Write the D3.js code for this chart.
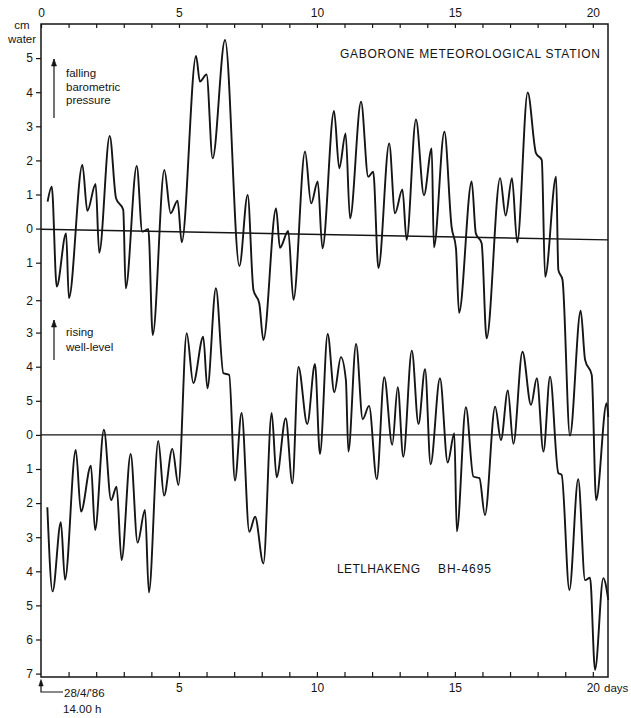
<!DOCTYPE html>
<html>
<head>
<meta charset="utf-8">
<script src="https://cdn.jsdelivr.net/npm/d3@7"></script>
<style>
  body { margin: 0; background: #fff; }
  svg { display: block; font-family: "Liberation Sans", Arial, sans-serif; }
</style>
</head>
<body>
<script>
// Barometric pressure (cm water), upper trace
const pressureDays = [0.24,0.39,0.57,0.91,1.01,1.50,1.68,1.98,2.11,2.49,2.72,2.98,3.07,3.47,3.67,3.89,4.05,4.47,4.70,4.95,
  5.10,5.62,5.76,6.00,6.22,6.67,7.19,7.49,7.70,7.91,8.06,8.52,8.66,8.96,9.15,9.57,9.79,10.03,10.20,10.62,
  10.81,11.04,11.20,11.60,11.86,12.04,12.23,12.62,12.83,13.10,13.25,13.59,13.88,14.16,14.24,14.62,14.88,15.04,15.15,15.61,
  15.76,15.97,16.15,16.64,16.84,17.07,17.26,17.64,17.94,18.15,18.27,18.67,18.75,18.90,19.17,19.56,19.72,19.96,20.12,20.50,20.56];
const pressureValues = [0.79,1.23,-1.70,-0.14,-2.04,1.87,0.52,1.31,-0.71,2.72,0.89,0.55,-1.75,1.84,-0.09,-0.02,-3.12,1.72,0.45,0.82,
  -0.40,5.06,4.31,4.52,2.06,5.53,-1.10,0.99,-1.80,-2.19,-3.27,0.59,-0.56,-0.07,-2.09,2.26,0.74,1.38,-0.58,3.45,
  1.77,2.79,0.30,3.72,1.52,1.67,-1.16,2.50,0.45,1.15,-0.33,3.20,0.98,2.35,-0.55,2.84,0.06,-0.58,-2.47,1.38,
  -0.14,-0.43,-3.22,1.48,0.38,1.48,-0.40,3.99,2.21,2.01,-1.41,1.52,-1.21,-1.50,-6.07,-2.41,-3.85,-4.29,-7.96,-5.12,-5.52];

// Well level Letlhakeng BH-4695, lower trace
const wellDays = [0.23,0.42,0.72,0.87,1.26,1.45,1.81,1.96,2.28,2.54,2.74,2.92,3.25,3.50,3.77,3.91,4.25,4.46,4.76,4.98,
  5.28,5.52,5.88,6.03,6.34,6.61,6.82,7.03,7.27,7.55,7.76,8.06,8.36,8.54,8.87,9.11,9.33,9.65,9.93,10.11,
  10.39,10.63,10.87,11.05,11.14,11.42,11.66,11.89,12.17,12.44,12.73,12.93,13.13,13.44,13.68,13.92,14.12,14.46,14.74,14.98,
  15.07,15.40,15.67,15.89,16.09,16.46,16.67,16.92,17.12,17.45,17.76,17.97,18.21,18.45,18.75,18.87,19.15,19.47,19.72,19.90,
  20.08,20.38,20.56];
const wellValues = [-2.12,-4.59,-2.56,-4.25,-0.44,-2.25,-0.90,-2.79,0.15,-1.91,-1.52,-3.67,-0.56,-3.16,-2.20,-4.62,-0.18,-1.78,-0.41,-1.47,
  2.98,1.52,2.88,1.37,4.30,1.81,1.76,-1.34,0.64,-2.84,-2.40,-3.77,0.64,-1.24,0.49,-1.42,1.99,0.32,2.08,-0.56,
  2.96,1.25,2.28,1.61,-0.49,2.67,0.46,0.85,-1.30,1.69,-0.29,1.40,-0.64,2.47,0.32,1.93,-0.86,1.66,-0.81,0.05,
  -2.83,0.81,-1.22,-1.27,-2.35,0.83,-0.15,1.30,-0.26,2.44,0.88,1.66,-0.49,1.71,-1.12,-1.17,-4.55,-1.30,-4.26,-4.19,
  -6.89,-4.20,-4.84];

// zero reference lines (day, value)
const pressureZero = [[0, -0.02], [20.55, -0.33]];
const wellZero = [[0, 0], [20.55, 0]];
const wellOffset = -6.05;

// tick labels
const dayTicks = d3.range(0, 21);
const dayLabels = [0, 5, 10, 15, 20];
const upperTickValues = [5, 4, 3, 2, 1, 0, -1, -2.1];
const upperTickLabels = ["5", "4", "3", "2", "1", "0", "1", "2"];
const lowerTickValues = [3, 2, 1, 0, -1, -2, -3, -4, -5, -6, -7];
const lowerTickLabels = ["3", "4", "5", "0", "1", "2", "3", "4", "5", "6", "7"];

const width = 631;
const height = 718;
const plot = { left: 41, right: 608, top: 24, bottom: 677 };
const ink = "#151515";

const svg = d3.select("body").append("svg")
    .attr("width", width)
    .attr("height", height);

const xScale = d3.scaleLinear().domain([0, 20.55]).range([plot.left, plot.right]);
const yScale = d3.scaleLinear().domain([6.0, -13.15]).range([plot.top, plot.bottom]);

// frame
svg.append("rect")
    .attr("x", plot.left).attr("y", plot.top)
    .attr("width", plot.right - plot.left).attr("height", plot.bottom - plot.top)
    .attr("fill", "none").attr("stroke", ink).attr("stroke-width", 1.5);

// top axis
const topAxis = d3.axisTop(xScale)
    .tickValues(dayTicks)
    .tickSizeInner(-4).tickSizeOuter(0).tickPadding(7)
    .tickFormat(d => dayLabels.includes(d) ? d : "");
svg.append("g")
    .attr("transform", "translate(0," + plot.top + ")")
    .call(topAxis);

// bottom axis
const bottomAxis = d3.axisBottom(xScale)
    .tickValues(dayTicks.slice(1))
    .tickSizeInner(-5).tickSizeOuter(0).tickPadding(6)
    .tickFormat(d => dayLabels.includes(d) && d > 0 ? d : "");
svg.append("g")
    .attr("transform", "translate(0," + plot.bottom + ")")
    .call(bottomAxis);

// left axis, two stacked scales
const leftValues = upperTickValues.concat(lowerTickValues.map(v => v + wellOffset));
const leftLabels = upperTickLabels.concat(lowerTickLabels);
const leftAxis = d3.axisLeft(yScale)
    .tickValues(leftValues)
    .tickSize(5).tickPadding(3)
    .tickFormat((d, i) => leftLabels[i]);
svg.append("g")
    .attr("transform", "translate(" + plot.left + ",0)")
    .call(leftAxis);

svg.selectAll(".domain").remove();
svg.selectAll(".tick line").attr("stroke", ink).attr("stroke-width", 1.2);
svg.selectAll(".tick text")
    .attr("fill", ink)
    .style("font-size", "12px")
    .style("font-family", "'Liberation Sans', Arial, sans-serif");

// zero lines
const straight = d3.line().x(d => xScale(d[0])).y(d => yScale(d[1]));
svg.append("path").attr("d", straight(pressureZero))
    .attr("fill", "none").attr("stroke", ink).attr("stroke-width", 1.4);
svg.append("path").attr("d", straight(wellZero.map(d => [d[0], d[1] + wellOffset])))
    .attr("fill", "none").attr("stroke", ink).attr("stroke-width", 1.4);

// traces
const trace = d3.line()
    .x(d => xScale(d[0]))
    .y(d => yScale(d[1]))
    .curve(d3.curveMonotoneX);

svg.append("path")
    .attr("d", trace(pressureDays.map((d, i) => [d, pressureValues[i]])))
    .attr("fill", "none").attr("stroke", ink).attr("stroke-width", 1.9)
    .attr("stroke-linejoin", "round");

svg.append("path")
    .attr("d", trace(wellDays.map((d, i) => [d, wellValues[i] + wellOffset])))
    .attr("fill", "none").attr("stroke", ink).attr("stroke-width", 1.9)
    .attr("stroke-linejoin", "round");

// upward arrow: shaft from y2 up to tip y1
function arrow(x, y1, y2) {
  svg.append("line")
      .attr("x1", x).attr("x2", x)
      .attr("y1", y1).attr("y2", y2)
      .attr("stroke", ink).attr("stroke-width", 1.2);
  svg.append("path")
      .attr("d", `M${x - 2.5},${y1 + 7} L${x},${y1} L${x + 2.5},${y1 + 7} Z`)
      .attr("fill", ink).attr("stroke", ink).attr("stroke-width", 0.6);
}

function label(lines, x, y, step, anchor) {
  const t = svg.append("text")
      .attr("x", x).attr("y", y)
      .attr("fill", ink)
      .attr("text-anchor", anchor || "start")
      .style("font-size", "11.5px");
  lines.forEach((s, i) => {
    t.append("tspan").attr("x", x).attr("dy", i === 0 ? 0 : step).text(s);
  });
  return t;
}

// unit label
label(["cm", "water"], 22, 29, 14, "middle");

// annotations
arrow(54, 59, 118);
label(["falling", "barometric", "pressure"], 66, 77, 13.5);
arrow(54, 320, 360);
label(["rising", "well-level"], 66, 336, 15);

svg.append("text")
    .attr("x", 340).attr("y", 57.5)
    .attr("textLength", 260).attr("lengthAdjust", "spacing")
    .attr("fill", ink).style("font-size", "12px")
    .text("GABORONE METEOROLOGICAL STATION");

svg.append("text")
    .attr("x", 337).attr("y", 572.5)
    .attr("textLength", 83).attr("lengthAdjust", "spacing")
    .attr("fill", ink).style("font-size", "12px")
    .text("LETLHAKENG");
svg.append("text")
    .attr("x", 438).attr("y", 572.5)
    .attr("textLength", 53).attr("lengthAdjust", "spacing")
    .attr("fill", ink).style("font-size", "12px")
    .text("BH-4695");

// "days" unit after the last bottom label
svg.append("text")
    .attr("x", 604).attr("y", 692)
    .attr("fill", ink).style("font-size", "11.5px")
    .text("days");

// start marker 28/4/'86 14.00 h
svg.append("path")
    .attr("d", `M${plot.left + 22},692 L${plot.left},692 L${plot.left},681`)
    .attr("fill", "none").attr("stroke", ink).attr("stroke-width", 1.2);
svg.append("path")
    .attr("d", `M${plot.left - 2.2},686 L${plot.left},679.5 L${plot.left + 2.2},686 Z`)
    .attr("fill", ink).attr("stroke", ink).attr("stroke-width", 0.6);
svg.append("text")
    .attr("x", 64).attr("y", 696.5)
    .attr("fill", ink).style("font-size", "11.5px")
    .text("28/4/'86");
svg.append("text")
    .attr("x", 63).attr("y", 713)
    .attr("fill", ink).style("font-size", "11.5px")
    .text("14.00  h");
</script>
</body>
</html>
